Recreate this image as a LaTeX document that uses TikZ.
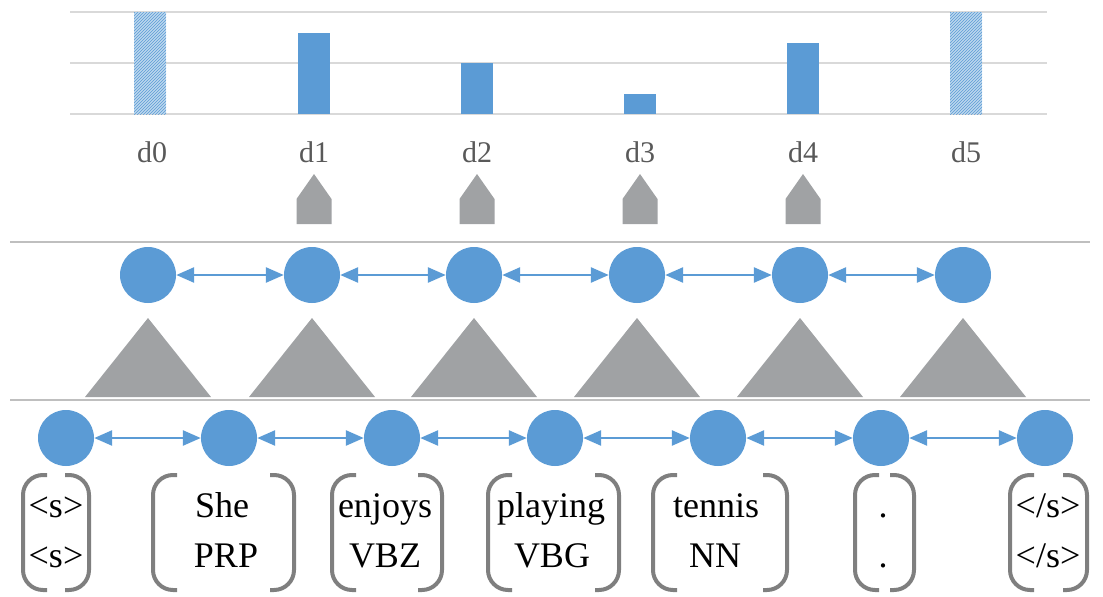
\documentclass[tikz,border=0pt]{standalone}
\usepackage{fontspec}
\setmainfont{Liberation Serif}
\usetikzlibrary{arrows.meta,patterns}
\definecolor{barblue}{HTML}{5B9BD5}
\definecolor{hatchblue}{HTML}{BDD7EE}
\definecolor{trigray}{HTML}{A0A2A4}
\definecolor{brgray}{HTML}{7F7F7F}
\definecolor{gridgray}{HTML}{D9D9D9}
\definecolor{labgray}{HTML}{595959}

\begin{document}
\begin{tikzpicture}[x=1pt, y=-1pt, >={Triangle[length=18pt,width=15pt]},
    state/.style={circle, fill=barblue, minimum size=56pt, inner sep=0pt},
    link/.style={<->, barblue, line width=2.6pt},
    tri/.style={fill=trigray},
    paren/.style={brgray, line width=4pt, rounded corners=20pt},
    word/.style={anchor=base, font=\fontsize{36}{40}\selectfont},
    dlab/.style={font=\fontsize{30}{34}\selectfont, text=labgray}]
        \useasboundingbox (0,0) rectangle (1103,597);
        % chart grid and bars
        \foreach \y in {12,63,114}
          \draw[gridgray, line width=1.5pt] (70,\y) -- (1047,\y);
        \foreach \x in {150,966} {
          \fill[hatchblue] ({\x-16},12) rectangle ({\x+16},114);
          \fill[pattern=north east lines, pattern color=barblue] ({\x-16},12) rectangle ({\x+16},114);
        }
        \foreach \x/\h in {314/33,477/63,640/94,803/43}
          \fill[barblue] ({\x-16},\h) rectangle ({\x+16},114);
        \foreach \x [count=\i from 0] in {152,314,477,640,803,966}
          \node[dlab] (d\i) at (\x,152) {d\i};
        \foreach \x in {314,477,640,803}
          \fill[tri] ({\x-17.5},224) -- ({\x-17.5},199) -- (\x,174) -- ({\x+17.5},199) -- ({\x+17.5},224) -- cycle;
        % separators
        \draw[gray!50, line width=1.2pt] (10,242) -- (1090,242);
        \draw[gray!50, line width=1.2pt] (10,400) -- (1090,400);
        % upper chain
        \foreach \x [count=\i] in {148,312,474,637,800,963} {
          \node[state] (u\i) at (\x,275) {};
          \fill[tri] ({\x-63},397) -- (\x,318) -- ({\x+63},397) -- cycle;
        }
        \foreach \i/\j in {1/2,2/3,3/4,4/5,5/6}
          \draw[link] (u\i) -- (u\j);
        % lower chain
        \foreach \x [count=\i] in {66,229,392,555,718,881,1045}
          \node[state] (s\i) at (\x,438) {};
        \foreach \i/\j in {1/2,2/3,3/4,4/5,5/6,6/7}
          \draw[link] (s\i) -- (s\j);
        % token brackets
        \foreach \l/\r in {23/89,153/294,332/442,488/619,653/787,855/914,1010/1087} {
          \draw[paren] ({\l+24},475) -- (\l,475) -- (\l,590) -- ({\l+24},590);
          \draw[paren] ({\r-24},475) -- (\r,475) -- (\r,590) -- ({\r-24},590);
        }
        \foreach \x/\y/\w/\t [count=\i] in {56/56/{<s>}/{<s>}, 222/226/She/PRP,
            385/385/enjoys/VBZ, 551/552/playing/VBG, 716/715/tennis/NN,
            883/883/./., 1048/1048/{</s>}/{</s>}} {
          \node[word] (w\i) at (\x,517) {\w};
          \node[word] (p\i) at (\y,567) {\t};
        }
      \end{tikzpicture}
\end{document}
